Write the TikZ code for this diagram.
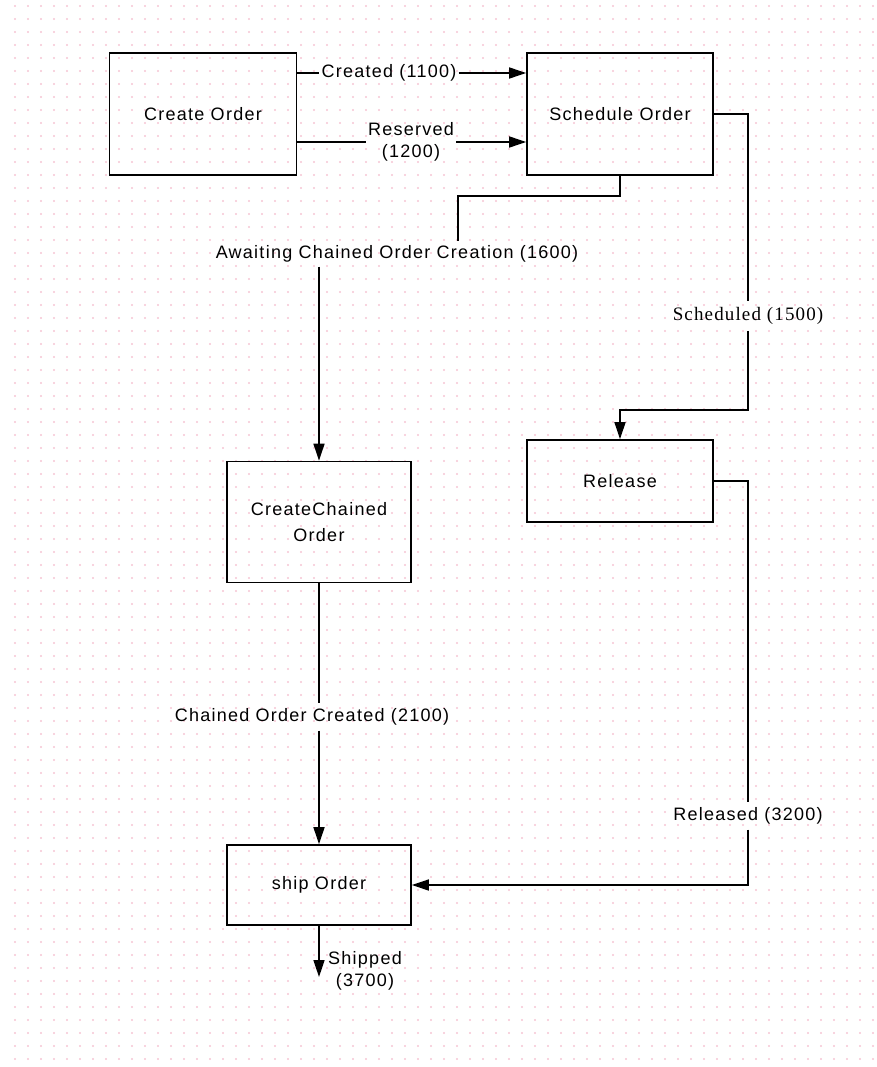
\documentclass[tikz,border=0pt]{standalone}
\usepackage{fontspec}
\usetikzlibrary{arrows.meta}
\newfontfamily\diafont[LetterSpace=7]{Liberation Sans}
\newfontfamily\serfont[LetterSpace=6]{Liberation Serif}
\definecolor{griddot}{RGB}{246,196,212}
\begin{document}
\begin{tikzpicture}
        [x=1pt, y=-1pt,
        box/.style={draw, line width=1.7pt, font=\diafont\fontsize{18}{22}\selectfont, align=center, inner sep=0pt},
        lbl/.style={font=\diafont\fontsize{18}{22}\selectfont, align=center, inner sep=2pt},
        edge/.style={line width=1.6pt, black},
        arr/.style={line width=1.6pt, black, -{Triangle[length=17pt, width=11pt]}}]

        \useasboundingbox (0,0) rectangle (876,1067);

        % background dot grid
        \foreach \i in {0,...,66}
          \foreach \j in {0,...,81}
            \fill[griddot] (15+13*\i, 6+13*\j) circle (1.1pt);

        % boxes
        \node[box, minimum width=187pt, minimum height=122pt] (create) at (203,114) {Create Order};
        \node[box, minimum width=186pt, minimum height=122pt] (sched) at (620,114) {Schedule Order};
        \node[box, minimum width=184pt, minimum height=121pt] (cco) at (319,522) {CreateChained\\[4pt]Order};
        \node[box, minimum width=186pt, minimum height=82pt] (release) at (620,481) {Release};
        \node[box, minimum width=184pt, minimum height=80pt] (ship) at (319,885) {ship Order};

        % transition labels
        \node[lbl] (lcreated) at (389,73) {Created (1100)};
        \node[lbl] (lres) at (411,142) {Reserved\\(1200)};
        \node[lbl, inner sep=4pt] (await) at (397,254) {Awaiting Chained Order Creation (1600)};
        \node[lbl, font=\serfont\fontsize{19}{22}\selectfont, inner sep=6pt] (lsched) at (748,316) {Scheduled (1500)};
        \node[lbl, inner sep=5pt] (lchain) at (312,717) {Chained Order Created (2100)};
        \node[lbl, inner sep=5pt] (lrel) at (748,816) {Released (3200)};
        \node[lbl, anchor=west] (lship) at (326,971) {Shipped\\(3700)};

        % bends
        \coordinate (b1) at (458,196);
        \coordinate (b2) at (748,410);
        \coordinate (out) at (319,977);

        % create -> schedule
        \draw[edge] (create.east |- lcreated) -- (lcreated.west);
        \draw[arr] (lcreated.east) -- (sched.west |- lcreated);
        \draw[edge] (create.east |- lres) -- (lres.west);
        \draw[arr] (lres.east) -- (sched.west |- lres);

        % schedule -> create chained
        \draw[edge] (sched.south) |- (b1) -- (b1 |- await.north);
        \draw[arr] (await.south -| cco.north) -- (cco.north);

        % schedule -> release
        \draw[edge] (sched.east) -- (sched.east -| lsched) -- (lsched.north);
        \draw[arr] (lsched.south) -- (b2) -| (release.north);

        % create chained -> ship
        \draw[edge] (cco.south) -- (cco.south |- lchain.north);
        \draw[arr] (cco.south |- lchain.south) -- (ship.north);

        % release -> ship
        \draw[edge] (release.east) -- (release.east -| lrel) -- (lrel.north);
        \draw[arr] (lrel.south) |- (ship.east);

        % ship -> out
        \draw[arr] (ship.south) -- (out);

        \end{tikzpicture}
\end{document}
